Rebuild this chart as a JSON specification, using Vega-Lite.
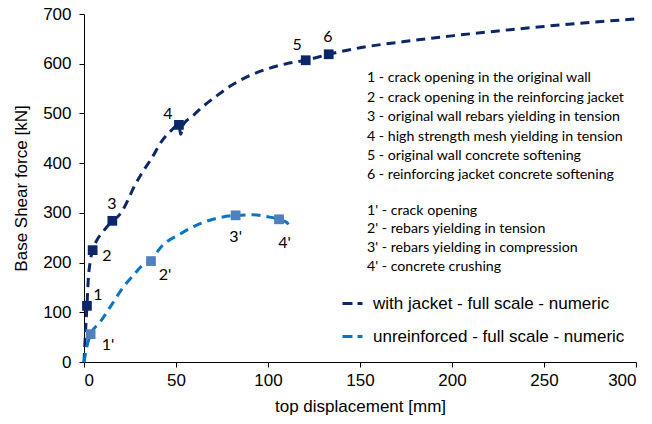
{
  "$schema": "https://vega.github.io/schema/vega-lite/v6.json",
  "width": 552,
  "height": 348,
  "autosize": {"type": "none"},
  "padding": {"left": 84, "top": 14, "right": 16, "bottom": 62},
  "background": "white",
  "config": {
    "view": {"stroke": null},
    "axis": {
      "grid": false,
      "domainColor": "#000000",
      "tickColor": "#000000",
      "tickSize": 5,
      "labelFont": "Liberation Sans",
      "titleFont": "Liberation Sans",
      "labelFontSize": 17,
      "titleFontSize": 17,
      "titleFontWeight": "normal",
      "labelColor": "#000000",
      "titleColor": "#000000"
    },
    "legend": {
      "labelFont": "Liberation Sans",
      "labelFontSize": 17,
      "labelColor": "#000000",
      "labelLimit": 0
    }
  },
  "datasets": {
    "curves": [
      {"series": "with jacket - full scale - numeric", "i": 0, "x": 0, "y": 0},
      {"series": "with jacket - full scale - numeric", "i": 1, "x": 0.8, "y": 60},
      {"series": "with jacket - full scale - numeric", "i": 2, "x": 1.6, "y": 113},
      {"series": "with jacket - full scale - numeric", "i": 3, "x": 2.3, "y": 165},
      {"series": "with jacket - full scale - numeric", "i": 4, "x": 3.3, "y": 200},
      {"series": "with jacket - full scale - numeric", "i": 5, "x": 4.7, "y": 225},
      {"series": "with jacket - full scale - numeric", "i": 6, "x": 7, "y": 245},
      {"series": "with jacket - full scale - numeric", "i": 7, "x": 10.3, "y": 262},
      {"series": "with jacket - full scale - numeric", "i": 8, "x": 15.4, "y": 284},
      {"series": "with jacket - full scale - numeric", "i": 9, "x": 19, "y": 295},
      {"series": "with jacket - full scale - numeric", "i": 10, "x": 22, "y": 312},
      {"series": "with jacket - full scale - numeric", "i": 11, "x": 27.7, "y": 356},
      {"series": "with jacket - full scale - numeric", "i": 12, "x": 32, "y": 383},
      {"series": "with jacket - full scale - numeric", "i": 13, "x": 36.8, "y": 410},
      {"series": "with jacket - full scale - numeric", "i": 14, "x": 42, "y": 443},
      {"series": "with jacket - full scale - numeric", "i": 15, "x": 46.7, "y": 463},
      {"series": "with jacket - full scale - numeric", "i": 16, "x": 51.6, "y": 477},
      {"series": "with jacket - full scale - numeric", "i": 17, "x": 52.5, "y": 458},
      {"series": "with jacket - full scale - numeric", "i": 18, "x": 54, "y": 478},
      {"series": "with jacket - full scale - numeric", "i": 19, "x": 58.5, "y": 493},
      {"series": "with jacket - full scale - numeric", "i": 20, "x": 64.7, "y": 514},
      {"series": "with jacket - full scale - numeric", "i": 21, "x": 72, "y": 535},
      {"series": "with jacket - full scale - numeric", "i": 22, "x": 80, "y": 556},
      {"series": "with jacket - full scale - numeric", "i": 23, "x": 90, "y": 576},
      {"series": "with jacket - full scale - numeric", "i": 24, "x": 100, "y": 590},
      {"series": "with jacket - full scale - numeric", "i": 25, "x": 110, "y": 600},
      {"series": "with jacket - full scale - numeric", "i": 26, "x": 120.5, "y": 607},
      {"series": "with jacket - full scale - numeric", "i": 27, "x": 133, "y": 619},
      {"series": "with jacket - full scale - numeric", "i": 28, "x": 150, "y": 632},
      {"series": "with jacket - full scale - numeric", "i": 29, "x": 175, "y": 645},
      {"series": "with jacket - full scale - numeric", "i": 30, "x": 200, "y": 656},
      {"series": "with jacket - full scale - numeric", "i": 31, "x": 225, "y": 666},
      {"series": "with jacket - full scale - numeric", "i": 32, "x": 250, "y": 675},
      {"series": "with jacket - full scale - numeric", "i": 33, "x": 275, "y": 683},
      {"series": "with jacket - full scale - numeric", "i": 34, "x": 300, "y": 690},
      {"series": "unreinforced - full scale - numeric", "i": 0, "x": 0, "y": 0},
      {"series": "unreinforced - full scale - numeric", "i": 1, "x": 1.5, "y": 30},
      {"series": "unreinforced - full scale - numeric", "i": 2, "x": 3.6, "y": 56},
      {"series": "unreinforced - full scale - numeric", "i": 3, "x": 8.7, "y": 80},
      {"series": "unreinforced - full scale - numeric", "i": 4, "x": 15, "y": 115},
      {"series": "unreinforced - full scale - numeric", "i": 5, "x": 21, "y": 149},
      {"series": "unreinforced - full scale - numeric", "i": 6, "x": 27, "y": 175},
      {"series": "unreinforced - full scale - numeric", "i": 7, "x": 31, "y": 192},
      {"series": "unreinforced - full scale - numeric", "i": 8, "x": 36.4, "y": 205},
      {"series": "unreinforced - full scale - numeric", "i": 9, "x": 42, "y": 232},
      {"series": "unreinforced - full scale - numeric", "i": 10, "x": 52, "y": 257},
      {"series": "unreinforced - full scale - numeric", "i": 11, "x": 61, "y": 275},
      {"series": "unreinforced - full scale - numeric", "i": 12, "x": 72, "y": 289},
      {"series": "unreinforced - full scale - numeric", "i": 13, "x": 82.4, "y": 295},
      {"series": "unreinforced - full scale - numeric", "i": 14, "x": 92, "y": 296},
      {"series": "unreinforced - full scale - numeric", "i": 15, "x": 100, "y": 292},
      {"series": "unreinforced - full scale - numeric", "i": 16, "x": 106, "y": 287},
      {"series": "unreinforced - full scale - numeric", "i": 17, "x": 110, "y": 281},
      {"series": "unreinforced - full scale - numeric", "i": 18, "x": 113, "y": 270}
    ],
    "markers": [
      {"series": "jacket", "label": "1", "x": 1.6, "y": 113, "lx": 7.6, "ly": 135},
      {"series": "jacket", "label": "2", "x": 4.7, "y": 225, "lx": 12.5, "ly": 213},
      {"series": "jacket", "label": "3", "x": 15.4, "y": 284, "lx": 15.2, "ly": 318},
      {"series": "jacket", "label": "4", "x": 51.6, "y": 477, "lx": 45.6, "ly": 499},
      {"series": "jacket", "label": "5", "x": 120.5, "y": 607, "lx": 115.8, "ly": 638},
      {"series": "jacket", "label": "6", "x": 133, "y": 619, "lx": 132.6, "ly": 654},
      {"series": "unreinforced", "label": "1'", "x": 3.6, "y": 56, "lx": 13, "ly": 35},
      {"series": "unreinforced", "label": "2'", "x": 36.4, "y": 203, "lx": 44, "ly": 176},
      {"series": "unreinforced", "label": "3'", "x": 82.4, "y": 295, "lx": 82.4, "ly": 252},
      {"series": "unreinforced", "label": "4'", "x": 106, "y": 287, "lx": 109, "ly": 239}
    ],
    "notes": [
      {"x": 153.8, "y": 571, "text": "1 - crack opening in the original wall"},
      {"x": 153.8, "y": 531, "text": "2 - crack opening in the reinforcing jacket"},
      {"x": 153.8, "y": 492, "text": "3 - original wall rebars yielding in tension"},
      {"x": 153.8, "y": 453, "text": "4 - high strength  mesh yielding in tension"},
      {"x": 153.8, "y": 414, "text": "5 - original wall concrete softening"},
      {"x": 153.8, "y": 376, "text": "6 - reinforcing jacket concrete softening"},
      {"x": 153.8, "y": 304, "text": "1' - crack opening"},
      {"x": 153.8, "y": 267, "text": "2' - rebars yielding in tension"},
      {"x": 153.8, "y": 229, "text": "3' - rebars yielding in compression"},
      {"x": 153.8, "y": 192, "text": "4' - concrete crushing"}
    ]
  },
  "layer": [
    {
      "data": {"name": "curves"},
      "mark": {"type": "line", "strokeWidth": 3, "strokeDash": [9, 6], "interpolate": "monotone"},
      "encoding": {
        "x": {"field": "x", "type": "quantitative", "scale": {"domain": [0, 300], "nice": false}, "axis": {"values": [0, 50, 100, 150, 200, 250, 300], "title": "top displacement  [mm]", "titlePadding": 10, "labelPadding": 5}},
        "y": {"field": "y", "type": "quantitative", "scale": {"domain": [0, 700], "nice": false}, "axis": {"values": [0, 100, 200, 300, 400, 500, 600, 700], "title": "Base Shear force [kN]", "titlePadding": 12, "labelPadding": 8}},
        "order": {"field": "i", "type": "quantitative"},
        "color": {
          "field": "series",
          "type": "nominal",
          "scale": {"domain": ["with jacket - full scale - numeric", "unreinforced - full scale - numeric"], "range": ["#0C2769", "#0A74C4"]},
          "legend": {
            "title": null,
            "orient": "none",
            "legendX": 257,
            "legendY": 278,
            "symbolType": "stroke",
            "symbolStrokeWidth": 3,
            "symbolDash": [10, 5],
            "symbolSize": 400,
            "rowPadding": 13,
            "labelOffset": 9
          }
        }
      }
    },
    {
      "data": {"name": "markers"},
      "mark": {"type": "point", "shape": "square", "filled": true, "opacity": 1, "size": 95},
      "encoding": {
        "x": {"field": "x", "type": "quantitative"},
        "y": {"field": "y", "type": "quantitative"},
        "fill": {"field": "series", "type": "nominal", "scale": {"domain": ["jacket", "unreinforced"], "range": ["#0C2769", "#4F81BD"]}, "legend": null}
      }
    },
    {
      "data": {"name": "markers"},
      "mark": {"type": "text", "font": "Lato", "fontSize": 16, "color": "#000000", "align": "center", "baseline": "middle"},
      "encoding": {
        "x": {"field": "lx", "type": "quantitative"},
        "y": {"field": "ly", "type": "quantitative"},
        "text": {"field": "label"}
      }
    },
    {
      "data": {"name": "notes"},
      "mark": {"type": "text", "font": "Lato", "fontSize": 14.2, "color": "#000000", "align": "left", "baseline": "middle"},
      "encoding": {
        "x": {"field": "x", "type": "quantitative"},
        "y": {"field": "y", "type": "quantitative"},
        "text": {"field": "text"}
      }
    }
  ],
  "resolve": {"scale": {"color": "independent", "fill": "independent"}}
}
